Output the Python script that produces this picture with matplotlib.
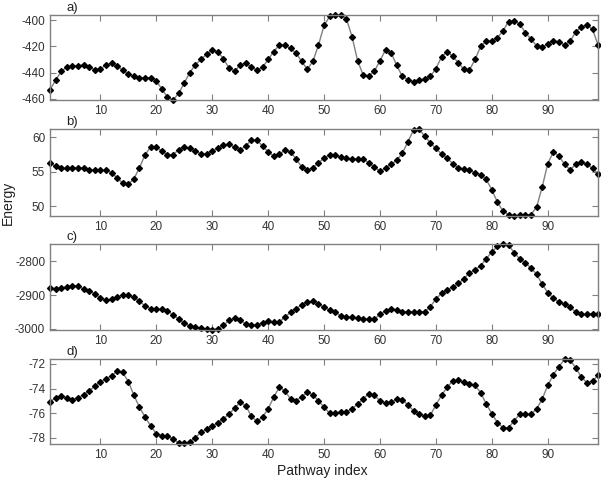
import numpy as np
import matplotlib.pyplot as plt

plt.rcParams['font.family'] = ['Liberation Sans', 'DejaVu Sans']
plt.rcParams['axes.unicode_minus'] = False

idx = np.arange(1, 100)

energy_a = [-453, -446, -439, -436, -435, -435, -434, -436, -438, -437.5,
            -434, -433, -435, -438, -441.5, -443, -444, -444, -444, -446.5,
            -452.5, -459, -461, -456, -448, -440, -434, -430, -426, -423,
            -424, -429.5, -436.5, -439, -434.5, -432.5, -436, -438, -436, -430,
            -424, -419, -419, -421.5, -425, -431.5, -437.5, -431.5, -419, -404,
            -397, -396, -396, -399, -412.5, -431, -442, -442.5, -439, -431,
            -422.5, -425, -434.5, -443, -445.5, -447, -445.5, -445, -443, -437,
            -428, -424, -427.5, -432.5, -437.5, -438, -430, -420, -416, -415.5,
            -413.5, -408, -401, -400.5, -403, -409.5, -414.5, -419.5, -420.5, -418,
            -415.5, -416.5, -419, -416, -409, -405, -403.5, -407, -419]

energy_b = [56.3, 55.8, 55.5, 55.5, 55.6, 55.6, 55.5, 55.3, 55.2, 55.2,
            55.2, 54.9, 54.1, 53.4, 53.2, 54.0, 55.6, 57.5, 58.6, 58.6,
            58.0, 57.5, 57.5, 58.2, 58.65, 58.4, 58.0, 57.6, 57.6, 58.0,
            58.5, 58.9, 59.0, 58.6, 58.2, 58.75, 59.6, 59.6, 58.75, 57.9,
            57.3, 57.6, 58.1, 57.9, 56.9, 55.7, 55.25, 55.6, 56.3, 57.0,
            57.5, 57.4, 57.1, 57.0, 56.8, 56.9, 56.9, 56.3, 55.7, 55.1,
            55.6, 56.1, 56.7, 57.7, 59.4, 61.05, 61.15, 60.2, 59.2, 58.4,
            57.6, 57.0, 56.2, 55.6, 55.4, 55.2, 54.9, 54.6, 53.9, 52.4,
            50.6, 49.3, 48.8, 48.65, 48.75, 48.75, 48.8, 49.9, 52.8, 56.2,
            57.9, 57.3, 56.1, 55.3, 56.1, 56.4, 56.1, 55.5, 54.7]

energy_c = [-2878, -2881, -2878, -2876, -2872, -2874, -2882, -2887, -2897, -2908,
            -2915, -2913, -2905, -2900, -2899, -2907, -2919, -2932, -2940, -2942,
            -2942, -2947, -2958, -2971, -2983, -2991, -2995, -2998, -3000, -3002,
            -2999, -2989, -2975, -2968, -2975, -2985, -2989, -2987, -2981, -2977,
            -2979, -2979, -2965, -2951, -2940, -2929, -2920, -2919, -2926, -2936,
            -2944, -2951, -2961, -2965, -2965, -2969, -2971, -2971, -2971, -2957,
            -2946, -2940, -2944, -2949, -2949, -2949, -2949, -2950, -2934, -2912,
            -2895, -2885, -2876, -2866, -2852, -2835, -2825, -2814, -2793, -2773,
            -2757, -2750, -2754, -2775, -2794, -2806, -2820, -2839, -2868, -2893,
            -2910, -2920, -2926, -2936, -2950, -2957, -2957, -2955, -2955]

energy_d = [-75.06, -74.77, -74.59, -74.75, -74.9, -74.75, -74.5, -74.2, -73.8, -73.45,
            -73.2, -72.95, -72.61, -72.69, -73.43, -74.54, -75.52, -76.31, -77.03, -77.66,
            -77.82, -77.87, -78.08, -78.4, -78.45, -78.34, -77.98, -77.55, -77.29, -77.03,
            -76.79, -76.44, -76.07, -75.6, -75.12, -75.38, -76.26, -76.65, -76.31, -75.65,
            -74.7, -73.88, -74.2, -74.83, -74.99, -74.67, -74.3, -74.51, -74.99, -75.52,
            -75.99, -75.99, -75.88, -75.88, -75.65, -75.25, -74.85, -74.4, -74.54, -74.99,
            -75.17, -75.12, -74.85, -74.9, -75.33, -75.8, -76.07, -76.23, -76.17, -75.33,
            -74.54, -73.9, -73.37, -73.32, -73.48, -73.59, -73.74, -74.33, -75.25, -76.04,
            -76.76, -77.18, -77.18, -76.6, -76.07, -76.07, -76.07, -75.65, -74.85, -73.74,
            -72.87, -72.21, -71.63, -71.68, -72.32, -73.06, -73.53, -73.4, -72.9]

panels = ['a)', 'b)', 'c)', 'd)']
series = [energy_a, energy_b, energy_c, energy_d]
ylims = [(-461, -396), (48.6, 61.2), (-3003, -2750), (-78.5, -71.6)]
yticks = [[-460, -440, -420, -400], [50, 55, 60], [-3000, -2900, -2800], [-78, -76, -74, -72]]
bottoms = [0.7917, 0.55, 0.3125, 0.075]
heights = [0.177, 0.181, 0.179, 0.177]

fig = plt.figure(figsize=(6.01, 4.8), dpi=100)

for lab, y, yl, yt, b, h in zip(panels, series, ylims, yticks, bottoms, heights):
    ax = fig.add_axes([0.0832, b, 0.912, h])
    ax.plot(idx, y, '-', color='#808080', lw=1.0, marker='D', ms=3.0,
            mfc='black', mec='black', clip_on=False)
    ax.set_xlim(1, 99)
    ax.set_ylim(*yl)
    ax.set_xticks(range(10, 100, 10))
    ax.set_yticks(yt)
    ax.tick_params(direction='in', top=True, right=True, length=4,
                   labelsize=8.5, colors='#808080', labelcolor='#333333', width=0.8)
    for s in ax.spines.values():
        s.set_color('#808080')
        s.set_linewidth(1.0)
    ax.text(0.03, 1.01, lab, transform=ax.transAxes, fontsize=9.5,
            ha='left', va='bottom', color='#222222')

fig.text(0.013, 0.577, 'Energy', rotation=90, ha='center', va='center',
         fontsize=10, color='#222222')
fig.text(0.537, 0.018, 'Pathway index', ha='center', va='center',
         fontsize=10, color='#222222')

fig.savefig('out.png', dpi=100)
